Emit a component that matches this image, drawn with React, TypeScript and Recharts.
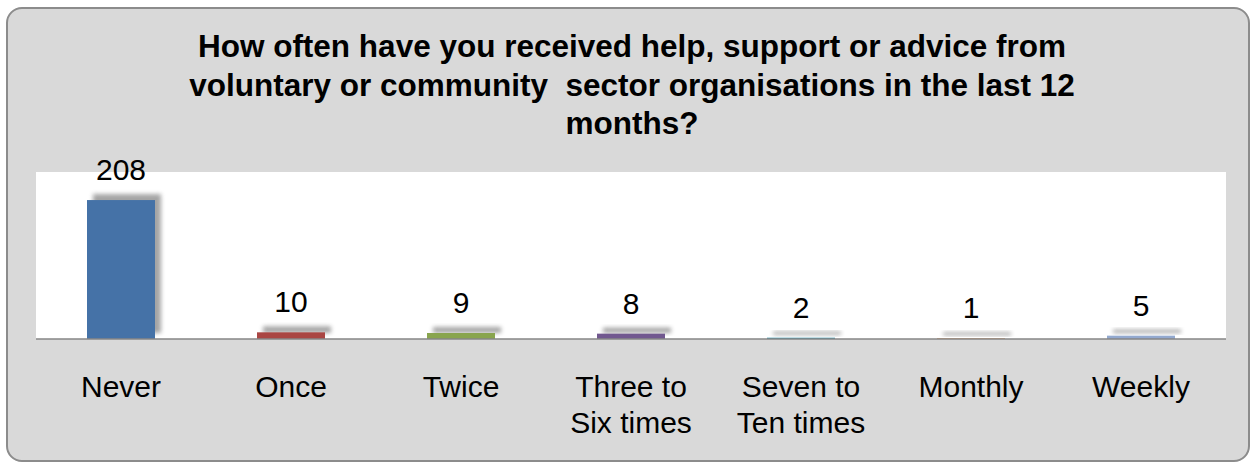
import React from 'react';
import { BarChart, Bar, XAxis, YAxis, CartesianGrid, LabelList, Cell } from 'recharts';

// Survey answers and response counts
const categories = ['Never', 'Once', 'Twice', 'Three to\nSix times', 'Seven to\nTen times', 'Monthly', 'Weekly'];
const counts = [208, 10, 9, 8, 2, 1, 5];
const barColors = ['#4572A7', '#AA4643', '#89A54E', '#71588F', '#4198AF', '#DB843D', '#93A9CF'];
const titleLines = [
  'How often have you received help, support or advice from',
  'voluntary or community  sector organisations in the last 12',
  'months?',
];

const chartData = categories.map((name, i) => ({ name, value: counts[i] }));

const FONT = 'Arial, "Liberation Sans", sans-serif';

// Bar with a soft drop shadow up and to the right, like the original
const ShadowBar = (props: any) => {
  const { x, y, width, height, fill, index } = props;
  const h = Math.max(height, 3);
  const id = `blur-${index}`;
  return (
    <g>
      <defs>
        <filter id={id} x="-20%" y="-50%" width="140%" height="200%">
          <feGaussianBlur stdDeviation="2" />
        </filter>
      </defs>
      <rect x={x + 6} y={y - 6} width={width} height={h} fill="#7f7f7f" opacity={0.7} filter={`url(#${id})`} />
      <rect x={x} y={y} width={width} height={height} fill={fill} />
    </g>
  );
};

// Category labels that wrap onto two lines
const CategoryTick = (props: any) => {
  const { x, y, payload } = props;
  const lines = String(payload.value).split('\n');
  return (
    <text x={x} y={y} textAnchor="middle" fontFamily={FONT} fontSize={30} fill="#000">
      {lines.map((line, i) => (
        <tspan key={i} x={x} dy={i === 0 ? 50 : 36}>
          {line}
        </tspan>
      ))}
    </text>
  );
};

export default function App() {
  return (
    <div style={{ position: 'absolute', left: 0, top: 0, width: 1253, height: 466, background: '#fff' }}>
      <div
        style={{
          position: 'absolute',
          left: 6,
          top: 7,
          width: 1240,
          height: 451,
          background: '#d9d9d9',
          border: '2px solid #8c8c8c',
          borderRadius: 16,
        }}
      />
      <div
        style={{
          position: 'absolute',
          left: 10,
          top: 27,
          width: 1244,
          textAlign: 'center',
          fontFamily: FONT,
          fontWeight: 'bold',
          fontSize: 31.5,
          lineHeight: '38.5px',
          color: '#000',
          whiteSpace: 'pre',
        }}
      >
        {titleLines.map((line) => (
          <div key={line}>{line}</div>
        ))}
      </div>
      <div style={{ position: 'absolute', left: 0, top: 0 }}>
        <BarChart
          width={1253}
          height={466}
          data={chartData}
          margin={{ top: 172, right: 27, bottom: 97, left: 36 }}
          barCategoryGap="30%"
        >
          <CartesianGrid horizontal={false} vertical={false} fill="#ffffff" stroke="none" />
          <YAxis hide domain={[0, 250]} />
          <XAxis
            dataKey="name"
            interval={0}
            tickLine={false}
            axisLine={{ stroke: '#868686', strokeWidth: 1.5 }}
            tick={<CategoryTick />}
          />
          <Bar dataKey="value" isAnimationActive={false} shape={<ShadowBar />}>
            {chartData.map((d, i) => (
              <Cell key={d.name} fill={barColors[i]} />
            ))}
            <LabelList
              dataKey="value"
              position="top"
              offset={20}
              style={{ fontFamily: FONT, fontSize: 30, fill: '#000' }}
            />
          </Bar>
        </BarChart>
      </div>
    </div>
  );
}
